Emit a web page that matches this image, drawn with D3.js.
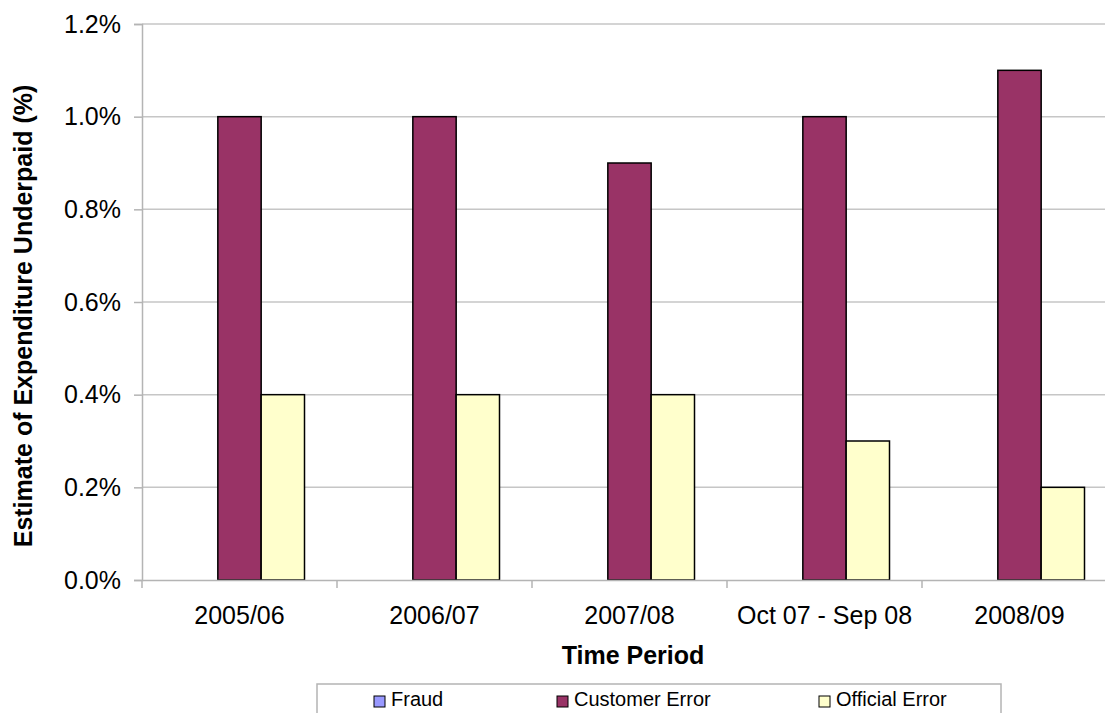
<!DOCTYPE html>
<html>
<head>
<meta charset="utf-8">
<script src="https://cdn.jsdelivr.net/npm/d3@7"></script>
<style>
  body { margin: 0; background: #fff; }
  svg { font-family: Arial, "Liberation Sans", sans-serif; }
</style>
</head>
<body>
<svg id="canvas" width="1105" height="713"></svg>
<script>
// chart values
var periods = ["2005/06", "2006/07", "2007/08", "Oct 07 - Sep 08", "2008/09"]
var seriesNames = ["Fraud", "Customer Error", "Official Error"]
var fraud = [0, 0, 0, 0, 0]
var customerError = [0.010, 0.010, 0.009, 0.010, 0.011]
var officialError = [0.004, 0.004, 0.004, 0.003, 0.002]
var yTicks = [0, 0.002, 0.004, 0.006, 0.008, 0.010, 0.012]
var colours = ["#9999ff", "#993366", "#ffffcc"]

var svg = d3.select("#canvas")

// plot area (right edge runs off the picture like the original)
var plotLeft = 142, plotRight = 1117, plotTop = 24, plotBottom = 580

var x = d3.scaleBand().domain(periods).range([plotLeft, plotRight])
var inner = d3.scaleBand().domain(seriesNames).range([0, x.bandwidth()]).paddingOuter(0.75).paddingInner(0)
var y = d3.scaleLinear().domain([0, 0.012]).range([plotBottom, plotTop])

// gridlines
svg.append("g")
    .selectAll("line")
    .data(yTicks.slice(1))
    .enter().append("line")
    .attr("x1", plotLeft).attr("x2", plotRight)
    .attr("y1", function(d) { return y(d) }).attr("y2", function(d) { return y(d) })
    .attr("stroke", "#c6c6c6").attr("stroke-width", 1.5)

// y axis
var yAxis = svg.append("g")
    .attr("transform", "translate(" + plotLeft + ",0)")
    .call(d3.axisLeft(y).tickValues(yTicks).tickFormat(d3.format(".1%")).tickSize(8).tickPadding(13))
yAxis.selectAll("text").attr("font-size", 25).attr("fill", "#000").attr("font-family", "Arial, 'Liberation Sans', sans-serif")
yAxis.selectAll("line,path").attr("stroke", "#b4b4b4").attr("stroke-width", 1.5)

// bars
var rows = periods.map(function(p, i) {
    return { period: p, values: [fraud[i], customerError[i], officialError[i]] }
})

var groups = svg.append("g").selectAll("g")
    .data(rows)
    .enter().append("g")
    .attr("transform", function(d) { return "translate(" + x(d.period) + ",0)" })

groups.selectAll("rect")
    .data(function(d) { return d.values.map(function(v, j) { return { name: seriesNames[j], value: v, j: j } }) })
    .enter().append("rect")
    .filter(function(d) { return d.value > 0 })
    .attr("x", function(d) { return inner(d.name) })
    .attr("width", inner.bandwidth())
    .attr("y", function(d) { return y(d.value) })
    .attr("height", function(d) { return plotBottom - y(d.value) })
    .attr("fill", function(d) { return colours[d.j] })
    .attr("stroke", "#000").attr("stroke-width", 1.5)

// x axis
var xAxis = svg.append("g")
    .attr("transform", "translate(0," + plotBottom + ")")
    .call(d3.axisBottom(x).tickSize(0).tickPadding(26))
xAxis.selectAll("text").attr("font-size", 25).attr("fill", "#000").attr("font-family", "Arial, 'Liberation Sans', sans-serif")
xAxis.select("path").attr("stroke", "#b4b4b4").attr("stroke-width", 1.5)
// category separators
xAxis.selectAll(".sep")
    .data(periods)
    .enter().append("line")
    .attr("class", "sep")
    .attr("x1", function(d) { return x(d) }).attr("x2", function(d) { return x(d) })
    .attr("y1", 0).attr("y2", 8)
    .attr("stroke", "#b4b4b4").attr("stroke-width", 1.5)

// axis titles
svg.append("text")
    .attr("x", 633).attr("y", 664)
    .attr("text-anchor", "middle")
    .attr("font-size", 25).attr("font-weight", "bold")
    .text("Time Period")

svg.append("text")
    .attr("transform", "translate(32,316) rotate(-90)")
    .attr("text-anchor", "middle")
    .attr("font-size", 25).attr("font-weight", "bold")
    .text("Estimate of Expenditure Underpaid (%)")

// legend
var legend = svg.append("g")
legend.append("rect")
    .attr("x", 317).attr("y", 684).attr("width", 684).attr("height", 40)
    .attr("fill", "#fff").attr("stroke", "#b4b4b4").attr("stroke-width", 1.5)

var legendX = [374, 557, 819]
var item = legend.selectAll(".item")
    .data(seriesNames)
    .enter().append("g")
    .attr("transform", function(d, i) { return "translate(" + legendX[i] + ",697)" })
item.append("rect")
    .attr("x", 0).attr("y", -1).attr("width", 11).attr("height", 11)
    .attr("fill", function(d, i) { return colours[i] })
    .attr("stroke", "#000").attr("stroke-width", 1)
item.append("text")
    .attr("x", 17).attr("y", 9)
    .attr("font-size", 20)
    .text(function(d) { return d })
</script>
</body>
</html>
